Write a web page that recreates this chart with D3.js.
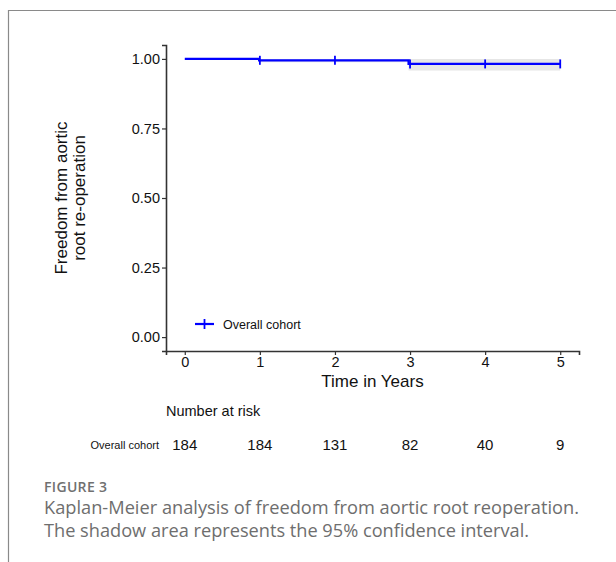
<!DOCTYPE html>
<html>
<head>
<meta charset="utf-8">
<script src="https://cdn.jsdelivr.net/npm/d3@7"></script>
<style>
  body { margin: 0; background: #fff; }
  svg { display: block; }
</style>
</head>
<body>
<svg width="616" height="562"></svg>
<script>
// survival steps (time in years, estimate, 95% CI)
var stepTimes = [0, 0.99, 2.98, 5];
var survival = [1.0, 0.995, 0.982, 0.982];
var ciLower = [1.0, 0.988, 0.958, 0.958];
var ciUpper = [1.0, 1.0, 1.0, 1.0];
var censorTimes = [1, 2, 3, 4, 5];
var xTicks = [0, 1, 2, 3, 4, 5];
var yTicks = [0, 0.25, 0.5, 0.75, 1];
var atRisk = [184, 184, 131, 82, 40, 9];
var seriesName = "Overall cohort";

var svg = d3.select("svg");

// outer frame (top + left only)
svg.append("path")
  .attr("d", "M8.5,562 L8.5,10.5 L616,10.5")
  .attr("fill", "none")
  .attr("stroke", "#8a8a8a")
  .attr("stroke-width", 1.2);

var xScale = d3.scaleLinear().domain([-0.25, 5.25]).range([166, 579]);
var yScale = d3.scaleLinear().domain([-0.05, 1.05]).range([351, 45]);

// build step data
var steps = [];
for (var i = 0; i < stepTimes.length; i++) {
  steps.push({ t: stepTimes[i], s: survival[i], lo: ciLower[i], hi: ciUpper[i] });
}

// confidence band
var area = d3.area()
  .x(function (d) { return xScale(d.t); })
  .y0(function (d) { return yScale(d.lo); })
  .y1(function (d) { return yScale(d.hi); })
  .curve(d3.curveStepAfter);

svg.append("path")
  .datum(steps)
  .attr("fill", "#e6e6e6")
  .attr("d", area);

var line = d3.line()
  .x(function (d) { return xScale(d.t); })
  .y(function (d) { return yScale(d.s); })
  .curve(d3.curveStepAfter);

svg.append("path")
  .datum(steps)
  .attr("fill", "none")
  .attr("stroke", "#0000ff")
  .attr("stroke-width", 2.2)
  .attr("d", line);

function survAt(t) {
  var s = survival[0];
  for (var i = 0; i < stepTimes.length; i++) {
    if (stepTimes[i] <= t) s = survival[i];
  }
  return s;
}

svg.selectAll(".censor")
  .data(censorTimes)
  .enter()
  .append("line")
  .attr("class", "censor")
  .attr("x1", function (d) { return xScale(d); })
  .attr("x2", function (d) { return xScale(d); })
  .attr("y1", function (d) { return yScale(survAt(d)) - 4.5; })
  .attr("y2", function (d) { return yScale(survAt(d)) + 4.5; })
  .attr("stroke", "#0000ff")
  .attr("stroke-width", 1.8);

// axes
var xAxis = svg.append("g")
  .attr("transform", "translate(0,351)")
  .call(d3.axisBottom(xScale).tickValues(xTicks).tickFormat(d3.format("d"))
    .tickSizeOuter(0).tickSize(4).tickPadding(2));
var yAxis = svg.append("g")
  .attr("transform", "translate(166,0)")
  .call(d3.axisLeft(yScale).tickValues(yTicks).tickFormat(d3.format(".2f"))
    .tickSizeOuter(0).tickSize(4).tickPadding(2));

[xAxis, yAxis].forEach(function (g) {
  g.select(".domain").attr("stroke", "#333").attr("stroke-width", 1.6);
  g.selectAll(".tick line").attr("stroke", "#333").attr("stroke-width", 1.2);
  g.selectAll("text")
    .attr("fill", "#111")
    .style("font-family", "'Liberation Sans', Arial, sans-serif")
    .style("font-size", "14.5px");
});

// axis titles
svg.append("text")
  .attr("x", xScale(2.5))
  .attr("y", 387)
  .attr("text-anchor", "middle")
  .style("font-family", "'Liberation Sans', Arial, sans-serif")
  .style("font-size", "17px")
  .attr("fill", "#111")
  .text("Time in Years");

var yTitle = svg.append("text")
  .attr("transform", "translate(67," + yScale(0.5) + ") rotate(-90)")
  .attr("text-anchor", "middle")
  .style("font-family", "'Liberation Sans', Arial, sans-serif")
  .style("font-size", "17px")
  .attr("fill", "#111");
yTitle.append("tspan").attr("x", 0).attr("dy", 0).text("Freedom from aortic");
yTitle.append("tspan").attr("x", 0).attr("dy", 18).text("root re-operation");

// legend
svg.append("line")
  .attr("x1", 195).attr("x2", 214)
  .attr("y1", 324).attr("y2", 324)
  .attr("stroke", "#0000ff").attr("stroke-width", 2.2);
svg.append("line")
  .attr("x1", 204.5).attr("x2", 204.5)
  .attr("y1", 319).attr("y2", 329)
  .attr("stroke", "#0000ff").attr("stroke-width", 1.8);
svg.append("text")
  .attr("x", 223).attr("y", 328.5)
  .style("font-family", "'Liberation Sans', Arial, sans-serif")
  .style("font-size", "12.5px")
  .attr("fill", "#111")
  .text(seriesName);

// risk table
svg.append("text")
  .attr("x", 166).attr("y", 416)
  .style("font-family", "'Liberation Sans', Arial, sans-serif")
  .style("font-size", "14.5px")
  .attr("fill", "#111")
  .text("Number at risk");

svg.append("text")
  .attr("x", 159).attr("y", 449)
  .attr("text-anchor", "end")
  .style("font-family", "'Liberation Sans', Arial, sans-serif")
  .style("font-size", "11px")
  .attr("fill", "#111")
  .text(seriesName);

svg.selectAll(".risk")
  .data(atRisk)
  .enter()
  .append("text")
  .attr("class", "risk")
  .attr("x", function (d, i) { return xScale(xTicks[i]); })
  .attr("y", 450)
  .attr("text-anchor", "middle")
  .style("font-family", "'Liberation Sans', Arial, sans-serif")
  .style("font-size", "15px")
  .attr("fill", "#111")
  .text(function (d) { return d; });

// caption
svg.append("text")
  .attr("x", 44).attr("y", 492)
  .attr("textLength", 63)
  .style("font-family", "'Open Sans', sans-serif")
  .style("font-size", "14px")
  .style("font-weight", "600")
  .attr("fill", "#707070")
  .text("FIGURE 3");

var caption = [
  "Kaplan-Meier analysis of freedom from aortic root reoperation.",
  "The shadow area represents the 95% confidence interval."
];
var capWidths = [535, 485];
svg.selectAll(".cap")
  .data(caption)
  .enter()
  .append("text")
  .attr("class", "cap")
  .attr("x", 44)
  .attr("y", function (d, i) { return 514 + i * 23; })
  .attr("textLength", function (d, i) { return capWidths[i]; })
  .attr("lengthAdjust", "spacingAndGlyphs")
  .style("font-family", "'Open Sans', sans-serif")
  .style("font-size", "18px")
  .attr("fill", "#6e6e6e")
  .text(function (d) { return d; });
</script>
</body>
</html>
